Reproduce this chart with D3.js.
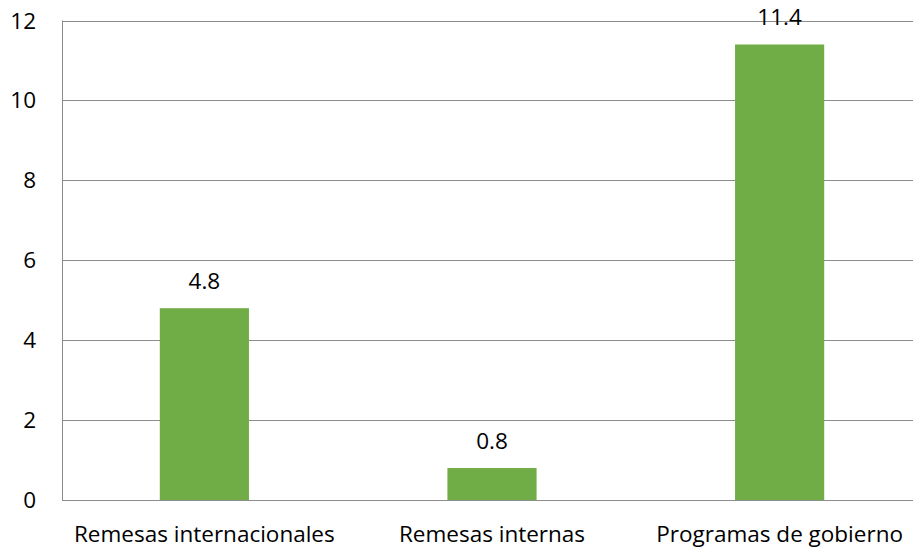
<!DOCTYPE html>
<html><head><meta charset="utf-8">
<script src="https://cdn.jsdelivr.net/npm/d3@7"></script>
<style>body{margin:0;background:#fff;} svg{display:block;font-family:"Open Sans", sans-serif;}</style>
</head><body>
<svg id="chart" width="913" height="550"></svg>
<script>
const categories = ["Remesas internacionales", "Remesas internas", "Programas de gobierno"];
const values = [4.8, 0.8, 11.4];
const yTicks = [0, 2, 4, 6, 8, 10, 12];

const svg = d3.select("#chart");
const W = 913, H = 550;
const m = {left: 62, top: 20.5, bottom: 50};
const x = d3.scaleBand().domain(categories).range([m.left, 922]).paddingInner(0.69).paddingOuter(0.34);
const y = d3.scaleLinear().domain([0, 12]).range([H - m.bottom, m.top]);

const fs = 22.5;
// gridlines
svg.append("g").selectAll("line").data(yTicks).join("line")
  .attr("x1", m.left).attr("x2", W)
  .attr("y1", d => Math.round(y(d)) + 0.5).attr("y2", d => Math.round(y(d)) + 0.5)
  .attr("stroke", "#8c8c8c").attr("stroke-width", 1);
// left axis line
svg.append("line").attr("x1", m.left + 0.5).attr("x2", m.left + 0.5)
  .attr("y1", y(12)).attr("y2", y(0) + 0.5).attr("stroke", "#8c8c8c");

// bars
svg.append("g").selectAll("rect").data(values).join("rect")
  .attr("x", (d, i) => x(categories[i])).attr("width", x.bandwidth())
  .attr("y", d => y(d)).attr("height", d => y(0) - y(d))
  .attr("fill", "#70ad47");

// value labels
svg.append("g").selectAll("text").data(values).join("text")
  .attr("x", (d, i) => x(categories[i]) + x.bandwidth() / 2)
  .attr("y", d => y(d) - 19)
  .attr("text-anchor", "middle").attr("font-size", fs).attr("fill", "#000")
  .text(d => d.toFixed(1));

// y tick labels
svg.append("g").selectAll("text").data(yTicks).join("text")
  .attr("x", 36).attr("y", d => y(d) + 8)
  .attr("text-anchor", "end").attr("font-size", fs).attr("fill", "#000")
  .text(d => d);

// x labels
svg.append("g").selectAll("text").data(categories).join("text")
  .attr("x", d => x(d) + x.bandwidth() / 2).attr("y", 541.5)
  .attr("text-anchor", "middle").attr("font-size", fs).attr("fill", "#000")
  .text(d => d);
</script>
</body></html>
